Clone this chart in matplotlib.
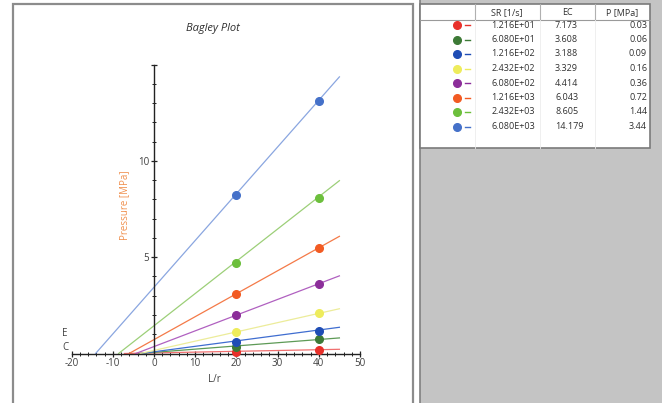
import matplotlib
matplotlib.use('Agg')
import matplotlib.pyplot as plt
from matplotlib.patches import Rectangle
from matplotlib.ticker import MultipleLocator

plt.rcParams['font.family'] = ['Open Sans', 'DejaVu Sans']
plt.rcParams['axes.unicode_minus'] = False

# ---- data ----
shear_rates = ['1.216E+01', '6.080E+01', '1.216E+02', '2.432E+02',
               '6.080E+02', '1.216E+03', '2.432E+03', '6.080E+03']
ec_values = [7.173, 3.608, 3.188, 3.329, 4.414, 6.043, 8.605, 14.179]
p_values = [0.03, 0.06, 0.09, 0.16, 0.36, 0.72, 1.44, 3.44]
lr_points = [20, 40]
p_at_lr = [[0.10, 0.20], [0.36, 0.74], [0.62, 1.18], [1.12, 2.08],
           [1.99, 3.62], [3.08, 5.45], [4.72, 8.08], [8.25, 13.10]]
line_end = 45
point_colors = ['#e8302a', '#3d7a36', '#1f4db5', '#eeec5c',
                '#8c2e9a', '#f25b23', '#6cbf3c', '#4571c9']
line_colors = ['#f07070', '#5d9a56', '#3f6dd0', '#ecec9a',
               '#b060c0', '#f47a48', '#9ccf78', '#8aa6e0']
header = ['SR [1/s]', 'EC', 'P [MPa]']

W, H = 662, 403
fig = plt.figure(figsize=(W / 100, H / 100), dpi=100)

# background / panel axes in pixel coordinates
bg = fig.add_axes([0, 0, 1, 1], zorder=0)
bg.set_xlim(0, W)
bg.set_ylim(H, 0)
bg.axis('off')
bg.add_patch(Rectangle((12.5, 4), 400.5, 420, facecolor='white',
                       edgecolor='#8c8c8c', lw=1.6))
bg.add_patch(Rectangle((420, -5), 260, 420, facecolor='#c4c4c4',
                       edgecolor='#808080', lw=1.2))
bg.add_patch(Rectangle((420, 4), 230, 144, facecolor='white',
                       edgecolor='#7a7a7a', lw=1.2))
bg.plot([420, 650], [20, 20], color='#9a9a9a', lw=0.8)
for cx in [475, 540, 595]:
    bg.plot([cx, cx], [4, 20], color='#b0b0b0', lw=0.8)
    bg.plot([cx, cx], [20, 148], color='#ececec', lw=0.6)
hdr_x = [507, 567, 622]
for hx, ht in zip(hdr_x, header):
    bg.text(hx, 12.5, ht, ha='center', va='center', fontsize=6.5, color='#303030')
for i in range(len(shear_rates)):
    ry = 25 + 14.5 * i
    bg.plot([457], [ry], 'o', color=point_colors[i], ms=5.5)
    bg.plot([464.5, 469.5], [ry, ry], color=point_colors[i], lw=1)
    bg.text(535, ry, shear_rates[i], ha='right', va='center', fontsize=6.5, color='#303030')
    bg.text(555, ry, f'{ec_values[i]:.3f}', ha='left', va='center', fontsize=6.5, color='#303030')
    bg.text(647, ry, f'{p_values[i]:.2f}', ha='right', va='center', fontsize=6.5, color='#303030')

bg.text(213, 28, 'Bagley Plot', ha='center', va='center', fontsize=8,
        style='italic', color='#303030')
bg.text(65, 333, 'E', ha='center', va='center', fontsize=7, color='#404040')
bg.text(65, 347, 'C', ha='center', va='center', fontsize=7, color='#404040')
bg.text(125, 205, 'Pressure [MPa]', ha='center', va='center', rotation=90,
        fontsize=7, color='#f0904f')
bg.text(214, 380, 'L/r', ha='center', va='center', fontsize=7, color='#404040')

# chart axes
x0, x1 = 71.6, 360.0
y0, y1 = 353.5, 64.5
ax = fig.add_axes([x0 / W, (H - y0) / H, (x1 - x0) / W, (y0 - y1) / H], zorder=1)
ax.patch.set_visible(False)
ax.set_xlim(-20, 50)
ax.set_ylim(0, 15)

for i in range(len(ec_values)):
    ec, p = ec_values[i], p_values[i]
    ax.plot([-ec, line_end], [0, p + p / ec * line_end], color=line_colors[i],
            lw=0.9, zorder=2, clip_on=False)
for i in range(len(p_at_lr)):
    ax.plot(lr_points, p_at_lr[i], 'o', color=point_colors[i], ms=5.5,
            zorder=3, clip_on=False)

ax.spines['top'].set_visible(False)
ax.spines['right'].set_visible(False)
ax.spines['left'].set_position(('data', 0))
for s in ['left', 'bottom']:
    ax.spines[s].set_color('#222222')
    ax.spines[s].set_linewidth(1.0)

ax.set_xticks([-20, -10, 0, 10, 20, 30, 40, 50])
ax.xaxis.set_minor_locator(MultipleLocator(2))
ax.set_yticks([5, 10, 15], ['5', '10', ''])
ax.yaxis.set_minor_locator(MultipleLocator(1))
ax.tick_params(axis='both', which='major', direction='inout', length=5,
               width=0.9, color='#222222', labelsize=7, labelcolor='#404040', pad=1)
ax.tick_params(axis='both', which='minor', direction='inout', length=3,
               width=0.7, color='#222222')

fig.savefig('out.png', dpi=100)
